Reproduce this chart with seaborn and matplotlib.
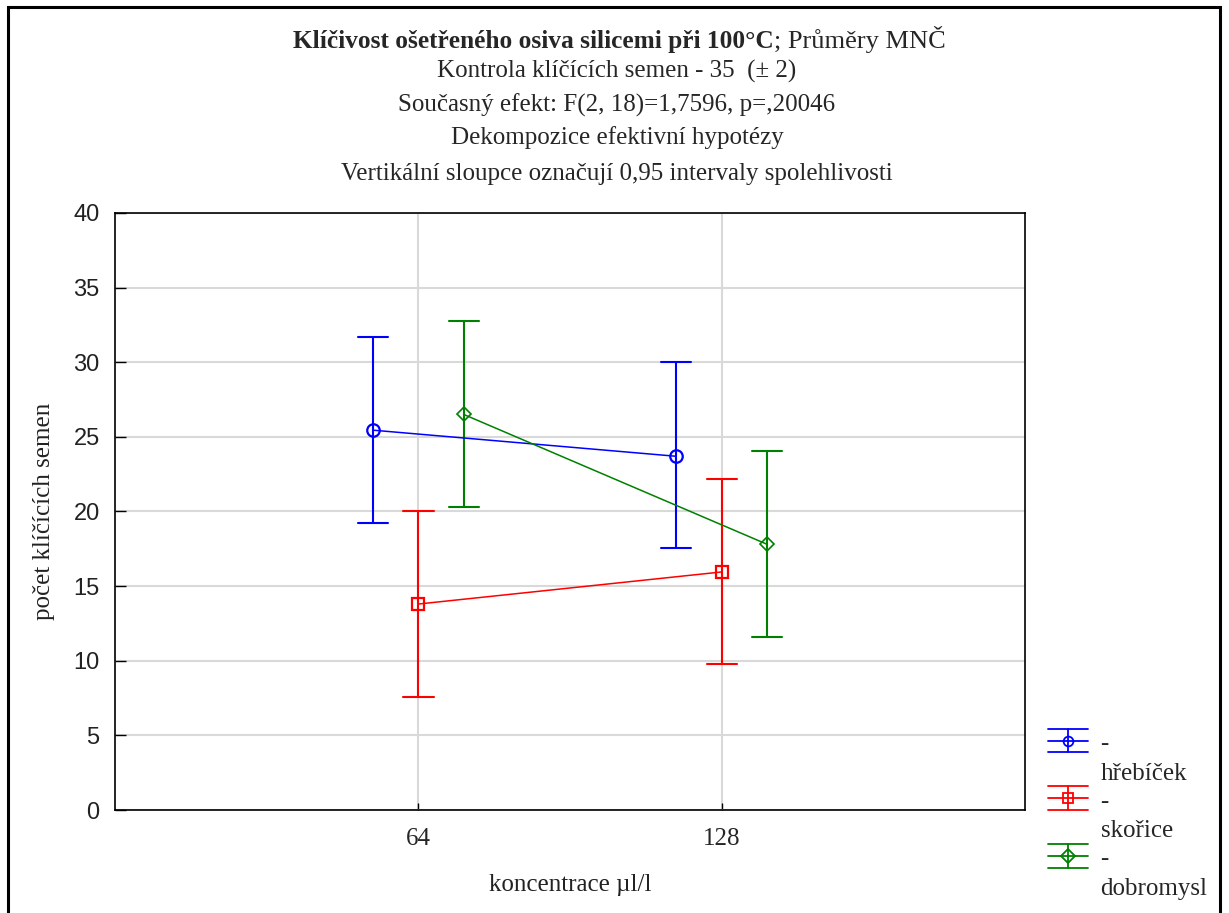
import pandas as pd
import matplotlib.pyplot as plt
import matplotlib.patches as mpatches
from matplotlib.lines import Line2D
from matplotlib.legend_handler import HandlerBase
import seaborn as sns

# data: means and 0.95 confidence limits
koncentrace = ["64", "128"]
silice = ["hřebíček", "skořice", "dobromysl"]
prumer_hrebicek = [25.45, 23.7]
dolni_hrebicek = [19.2, 17.55]
horni_hrebicek = [31.7, 30.0]
prumer_skorice = [13.8, 15.95]
dolni_skorice = [7.55, 9.8]
horni_skorice = [20.05, 22.2]
prumer_dobromysl = [26.5, 17.8]
dolni_dobromysl = [20.3, 11.6]
horni_dobromysl = [32.75, 24.05]

barvy = ["#0000ff", "#ff0000", "#008000"]
znacky = ["o", "s", "D"]


class StatHandler(HandlerBase):
    """Legend handle like Statistica: three bars, a stem and the marker."""

    def create_artists(self, legend, orig_handle, xdescent, ydescent,
                       width, height, fontsize, trans):
        yc = height / 2 - ydescent + 0.72 * fontsize
        x0 = -xdescent
        x1 = x0 + width
        xc = (x0 + x1) / 2
        half = 0.47 * fontsize
        color = orig_handle.get_color()
        arts = []
        for yy in (yc - half, yc, yc + half):
            arts.append(Line2D([x0, x1], [yy, yy], color=color, lw=1.3))
        arts.append(Line2D([xc, xc], [yc - half, yc + half], color=color, lw=1.3))
        arts.append(Line2D([xc], [yc], marker=orig_handle.get_marker(), ms=7,
                           mfc="none", mec=color, mew=1.3, color=color))
        for a in arts:
            a.set_transform(trans)
        return arts


def build_frame():
    rows = []
    sets = [
        (prumer_hrebicek, dolni_hrebicek, horni_hrebicek),
        (prumer_skorice, dolni_skorice, horni_skorice),
        (prumer_dobromysl, dolni_dobromysl, horni_dobromysl),
    ]
    for name, (m, lo, hi) in zip(silice, sets):
        for i, k in enumerate(koncentrace):
            # median of (lo, mean, hi) = mean, min/max = interval limits
            for v in (lo[i], m[i], hi[i]):
                rows.append({"koncentrace": k, "silice": name, "pocet": v})
    return pd.DataFrame(rows)


def main():
    data = build_frame()

    sns.set_theme(style="whitegrid")
    plt.rcParams["font.family"] = ["Liberation Serif", "DejaVu Serif"]

    fig = plt.figure(figsize=(12.29, 9.13), dpi=100)
    ax = fig.add_axes([115 / 1229, 103 / 913, 910 / 1229, 597 / 913])

    sns.pointplot(
        data=data, x="koncentrace", y="pocet", hue="silice",
        order=koncentrace, hue_order=silice,
        estimator="median", errorbar=("pi", 100),
        dodge=0.3, markers=znacky, linestyles="-", palette=barvy,
        capsize=0.1, err_kws={"linewidth": 1.5},
        linewidth=1.1, markersize=9, markeredgewidth=1.6,
        legend=False, ax=ax,
    )
    for ln in ax.lines:
        if ln.get_marker() not in (None, "None", "", " "):
            ln.set_markerfacecolor("none")
            ln.set_zorder(4)
        if ln.get_marker() == "D":
            ln.set_markersize(7)
            ln.set_markeredgewidth(1.2)

    ax.set_xlim(-1, 2)
    ax.set_ylim(0, 40)
    ax.set_yticks(range(0, 41, 5))
    ax.set_facecolor("white")
    ax.grid(True, color="#d9d9d9", linewidth=1.5)
    for sp in ax.spines.values():
        sp.set_color("black")
        sp.set_linewidth(1.2)
        sp.set_visible(True)
    ax.tick_params(axis="y", direction="in", length=8, width=1, color="black",
                   pad=11, labelsize=17, left=True)
    ax.tick_params(axis="x", direction="in", length=5, width=1, color="black",
                   pad=13, labelsize=18, bottom=True)
    for t in ax.get_yticklabels():
        t.set_fontfamily(["Liberation Sans", "DejaVu Sans"])
        t.set_color("#222222")
    ax.set_xlabel("koncentrace µl/l", fontsize=18, labelpad=17, color="#222222")
    ax.set_ylabel("počet klíčících semen", fontsize=18, labelpad=13, color="#222222")

    # titles
    t1 = fig.text(293 / 1229, 1 - 48 / 913, "Klíčivost ošetřeného osiva silicemi při 100°C",
                  fontsize=18.3, fontweight="bold", ha="left", va="baseline")
    ax.annotate("; Průměry MNČ", xy=(1, 0), xycoords=t1, fontsize=19,
                ha="left", va="bottom")
    podtituly = [
        ("Kontrola klíčících semen - 35  (± 2)", 78),
        ("Současný efekt: F(2, 18)=1,7596, p=,20046", 112),
        ("Dekompozice efektivní hypotézy", 144),
        ("Vertikální sloupce označují 0,95 intervaly spolehlivosti", 180),
    ]
    for txt, yb in podtituly:
        fig.text(617 / 1229, 1 - yb / 913, txt, fontsize=18, ha="center", va="baseline")

    # legend
    handles = [Line2D([], [], color=c, marker=m) for c, m in zip(barvy, znacky)]
    leg = fig.legend(handles, ["-\n" + s for s in silice],
                     handler_map={Line2D: StatHandler()},
                     loc="upper left", bbox_to_anchor=(1048 / 1229, 1 - 733 / 913),
                     frameon=False, fontsize=18, borderpad=0, borderaxespad=0,
                     labelspacing=0.24, handlelength=1.6, handletextpad=0.5)
    for t in leg.get_texts():
        t.set_linespacing(1.45)

    # outer frame
    fig.patches.append(mpatches.Rectangle(
        (8 / 1229, -0.05), 1212 / 1229, 1 - 7 / 913 + 0.05,
        transform=fig.transFigure, fill=False, edgecolor="black", linewidth=2.2))

    fig.savefig("out.png", dpi=100)
    plt.close(fig)


if __name__ == "__main__":
    main()
